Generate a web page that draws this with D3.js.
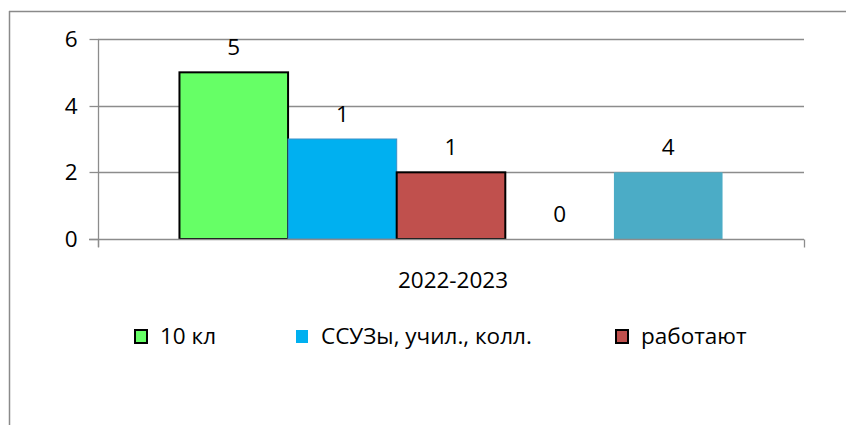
<!DOCTYPE html>
<html><head><meta charset="utf-8">
<script src="https://cdn.jsdelivr.net/npm/d3@7"></script>
<style>html,body{margin:0;padding:0;background:#fff;}svg{display:block;font-family:"Open Sans",sans-serif;}</style>
</head><body>
<svg id="c" width="846" height="425"></svg>
<script>
const categories = ["2022-2023"];
const seriesNames = ["10 кл", "ССУЗы, учил., колл.", "работают", "", ""];
const seriesValues = [5, 3, 2, 0, 2];
const dataLabels = ["5", "1", "1", "0", "4"];
const seriesColors = ["#66FF66", "#00B0F0", "#C0504D", "#FFFFFF", "#4BACC6"];
const seriesStrokes = ["#000000", "#3A8FC8", "#000000", "none", "none"];
const yTicks = [0, 2, 4, 6];

const FS = 22.5;
const svg = d3.select("#c");
const W = 846, H = 425;
svg.append("rect").attr("width", W).attr("height", H).attr("fill", "#fff");

const frame = "#8a8a8a";
svg.append("line").attr("x1", 9.5).attr("x2", 9.5).attr("y1", 11).attr("y2", H).attr("stroke", frame).attr("stroke-width", 1.5);
svg.append("line").attr("x1", 9).attr("x2", W).attr("y1", 11.5).attr("y2", 11.5).attr("stroke", frame).attr("stroke-width", 1.5);

const plot = {left: 98, right: 804, top: 39, bottom: 239};
const y = d3.scaleLinear().domain([0, 6]).range([plot.bottom, plot.top]);
const x0 = d3.scaleBand().domain(categories).range([plot.left, plot.right]).paddingInner(0).paddingOuter(0);
const x1 = d3.scaleBand().domain(d3.range(seriesValues.length)).range([0, x0.bandwidth()]).paddingInner(0).paddingOuter(0.75);

const grid = "#8c8c8c";
svg.append("g").selectAll("line").data(yTicks.filter(t => t > 0)).join("line")
  .attr("x1", plot.left).attr("x2", plot.right)
  .attr("y1", d => Math.round(y(d)) + 0.5).attr("y2", d => Math.round(y(d)) + 0.5)
  .attr("stroke", grid).attr("stroke-width", 1.3);

const yAxis = d3.axisLeft(y).tickValues(yTicks).tickSize(9).tickPadding(12).tickFormat(d3.format("d"));
const gy = svg.append("g").attr("transform", `translate(${plot.left + 0.5},0)`).call(yAxis);
gy.attr("font-size", null).attr("font-family", null);
gy.select(".domain").attr("stroke", grid).attr("stroke-width", 1.3).attr("d", `M0,${plot.top}V${plot.bottom + 8}`);
gy.selectAll(".tick line").attr("stroke", grid).attr("stroke-width", 1.3);
gy.selectAll(".tick text").style("font-size", FS + "px").attr("fill", "#000");
gy.selectAll(".tick").attr("transform", d => `translate(0,${Math.round(y(d)) + 0.5})`);

const g = svg.append("g").attr("transform", `translate(${x0(categories[0])},0)`);
g.selectAll("rect").data(seriesValues).join("rect")
  .attr("x", (d, i) => x1(i))
  .attr("width", x1.bandwidth())
  .attr("y", d => y(d))
  .attr("height", d => y(0) - y(d))
  .attr("fill", (d, i) => seriesColors[i])
  .attr("stroke", (d, i) => seriesStrokes[i])
  .attr("stroke-width", (d, i) => i === 1 ? 1 : 2);

const gx = svg.append("g").attr("transform", `translate(0,${plot.bottom + 0.5})`);
gx.append("line").attr("x1", plot.left - 9).attr("x2", plot.right).attr("y1", 0).attr("y2", 0).attr("stroke", grid).attr("stroke-width", 1.3);
gx.selectAll("line.t").data([plot.left, plot.right]).join("line").attr("class", "t")
  .attr("x1", d => d + 0.5).attr("x2", d => d + 0.5).attr("y1", 0).attr("y2", 8)
  .attr("stroke", grid).attr("stroke-width", 1.3);
gx.append("text").attr("x", x0(categories[0]) + x0.bandwidth() / 2 + 2).attr("y", 41)
  .attr("dy", "0.35em")
  .attr("text-anchor", "middle").style("font-size", FS + "px").attr("fill", "#000").text(categories[0]);

g.selectAll("text.lbl").data(seriesValues).join("text").attr("class", "lbl")
  .attr("x", (d, i) => x1(i) + x1.bandwidth() / 2)
  .attr("y", d => y(d) - 25)
  .attr("dy", "0.35em")
  .attr("text-anchor", "middle").style("font-size", FS + "px").attr("fill", "#000")
  .text((d, i) => dataLabels[i]);

const legendX = [134, 295, 615];
const legendItems = seriesNames.map((n, i) => ({n, i})).filter(d => d.n !== "");
const lg = svg.append("g").attr("transform", "translate(0,336)");
const li = lg.selectAll("g").data(legendItems).join("g")
  .attr("transform", (d, k) => `translate(${legendX[k]},0)`);
li.append("rect").attr("x", 1).attr("y", -6).attr("width", 12).attr("height", 13)
  .attr("fill", d => seriesColors[d.i])
  .attr("stroke", d => d.i === 1 ? "none" : "#000").attr("stroke-width", 2);
li.append("text").attr("x", 26).attr("dy", "0.35em").style("font-size", FS + "px").attr("fill", "#000").text(d => d.n);
</script>
</body></html>
